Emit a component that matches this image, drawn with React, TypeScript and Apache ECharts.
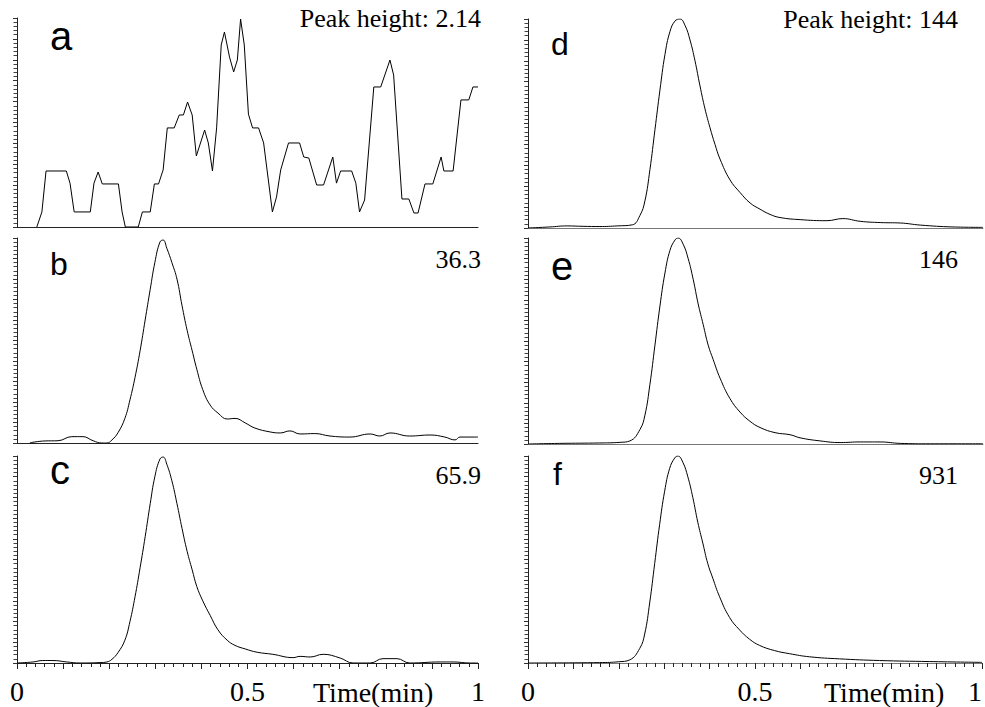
import React, { useEffect, useRef } from "react";
import * as echarts from "echarts";

// [time (min), relative intensity (% of panel peak)]
const panelA: [number, number][] = [
  [0.043, 0], [0.054, 7.2], [0.063, 26.8], [0.107, 26.8], [0.115, 21], [0.124, 7.2], [0.159, 7.2],
  [0.167, 21], [0.176, 26.3], [0.185, 20.6], [0.22, 20.6], [0.228, 7.2], [0.235, 0], [0.263, 0],
  [0.272, 7.2], [0.289, 7.2], [0.298, 20.6], [0.307, 20.6], [0.317, 27.3], [0.326, 47.4], [0.341, 47.4],
  [0.352, 53.6], [0.361, 53.6], [0.37, 59.8], [0.38, 53.6], [0.389, 34], [0.407, 46.4], [0.415, 40.2],
  [0.424, 26.8], [0.433, 47.4], [0.443, 87.1], [0.45, 93.3], [0.461, 81.3], [0.47, 74.2], [0.478, 79.9],
  [0.485, 99.5], [0.493, 87.1], [0.502, 54], [0.511, 47.4], [0.524, 47.4], [0.535, 40.2], [0.554, 7.2],
  [0.563, 14.4], [0.572, 27.3], [0.589, 40.2], [0.613, 40.2], [0.622, 33.5], [0.633, 33], [0.65, 20.1],
  [0.665, 20.1], [0.685, 33.5], [0.693, 21], [0.702, 26.8], [0.726, 26.8], [0.735, 21], [0.743, 7.2],
  [0.754, 12.9], [0.774, 67], [0.789, 67], [0.809, 79.9], [0.817, 72.7], [0.835, 13.4], [0.85, 13.4],
  [0.861, 6.7], [0.87, 6.7], [0.885, 20.6], [0.902, 20.6], [0.92, 33.5], [0.926, 26.8], [0.946, 26.8],
  [0.963, 60.8], [0.98, 60.8], [0.989, 67], [1.0, 67],
];

const panelB: [number, number][] = [
  [0.028, 0.1], [0.061, 1.0], [0.089, 1.1], [0.119, 3.1], [0.143, 3.1], [0.165, 1.1], [0.184, 0],
  [0.195, 0], [0.206, 1.5], [0.219, 5], [0.234, 12], [0.245, 21], [0.256, 32], [0.267, 45], [0.278, 60],
  [0.289, 75], [0.299, 88], [0.31, 98], [0.317, 99], [0.325, 95], [0.336, 88], [0.347, 80], [0.358, 67],
  [0.369, 55], [0.38, 45], [0.39, 36], [0.403, 26], [0.419, 18.5], [0.436, 14.6], [0.456, 11.7],
  [0.473, 12], [0.495, 9.8], [0.516, 7.3], [0.549, 5.4], [0.571, 4.9], [0.592, 5.9], [0.614, 4.4],
  [0.646, 4.6], [0.679, 3.4], [0.722, 2.9], [0.766, 4.4], [0.787, 3.4], [0.809, 4.9], [0.852, 3.4],
  [0.896, 3.9], [0.928, 2.9], [0.95, 1.5], [0.961, 2.9], [1.0, 2.9],
];

const panelC: [number, number][] = [
  [0, 0], [0.035, 0.5], [0.056, 1.2], [0.078, 1.2], [0.108, 0.5], [0.137, 0], [0.18, 0.2], [0.195, 0.5],
  [0.206, 1.8], [0.219, 5], [0.234, 11], [0.245, 20], [0.256, 32], [0.267, 46], [0.278, 61], [0.289, 77],
  [0.299, 90], [0.31, 98.5], [0.317, 99.5], [0.325, 96], [0.336, 88], [0.347, 77], [0.358, 65],
  [0.369, 54], [0.38, 45], [0.39, 37], [0.403, 30], [0.419, 23], [0.436, 16], [0.456, 11], [0.473, 8.5],
  [0.495, 6.8], [0.521, 5.2], [0.555, 4.2], [0.599, 2.6], [0.614, 3.2], [0.636, 2.9], [0.664, 4.2],
  [0.701, 2.4], [0.729, 0], [0.766, 0], [0.794, 2.1], [0.824, 2.1], [0.852, 0], [0.918, 0.5],
  [0.946, 0.5], [0.983, 0], [1.0, 0],
];

const panelD: [number, number][] = [
  [0, 0], [0.048, 0.5], [0.086, 1], [0.121, 0.8], [0.158, 0.7], [0.196, 1], [0.229, 1.5], [0.246, 6],
  [0.257, 13], [0.268, 28], [0.279, 47], [0.29, 66], [0.301, 83], [0.312, 94], [0.323, 99], [0.334, 100],
  [0.345, 97], [0.356, 90], [0.367, 80], [0.378, 68], [0.389, 57], [0.4, 48], [0.411, 40], [0.422, 33],
  [0.444, 23], [0.466, 17], [0.488, 12], [0.51, 9], [0.532, 6.5], [0.554, 5], [0.598, 4], [0.657, 3.5],
  [0.692, 4.5], [0.73, 3.2], [0.774, 2.6], [0.818, 2.4], [0.862, 1.4], [0.934, 0.5], [1.0, 0.3],
];

const panelE: [number, number][] = [
  [0, 0], [0.07, 0.3], [0.158, 0.5], [0.202, 0.8], [0.224, 1.5], [0.246, 7], [0.257, 14], [0.268, 29],
  [0.279, 48], [0.29, 67], [0.301, 83], [0.312, 94], [0.323, 99], [0.33, 100], [0.341, 97], [0.352, 90],
  [0.363, 80], [0.374, 68], [0.385, 58], [0.396, 48], [0.407, 41], [0.422, 32], [0.444, 22], [0.466, 15.5],
  [0.488, 11], [0.51, 8], [0.543, 5.5], [0.576, 4.5], [0.598, 3], [0.642, 1.5], [0.686, 0.7], [0.73, 1],
  [0.774, 1], [0.818, 0.3], [0.884, 0.1], [1.0, 0.1],
];

const panelF: [number, number][] = [
  [0, 0], [0.158, 0.2], [0.2, 0.6], [0.224, 1.5], [0.246, 7], [0.257, 14], [0.268, 29], [0.279, 48],
  [0.29, 67], [0.301, 83], [0.312, 94], [0.323, 99], [0.33, 100], [0.341, 97], [0.352, 90], [0.363, 80],
  [0.374, 68], [0.385, 58], [0.396, 48], [0.407, 41], [0.422, 32], [0.444, 22], [0.466, 16], [0.488, 11.5],
  [0.51, 8.5], [0.543, 6], [0.576, 4.5], [0.62, 3], [0.686, 2], [0.774, 1.2], [0.884, 0.7], [1.0, 0.3],
];

const panelLetters = ["a", "b", "c", "d", "e", "f"];
const peakLabels = ["Peak height: 2.14", "36.3", "65.9", "Peak height: 144", "146", "931"];
const xTickLabels: Record<string, string> = { "0": "0", "0.5": "0.5", "1": "1" };
const xAxisTitle = "Time(min)";

const App: React.FC = () => {
  const ref = useRef<HTMLDivElement>(null);

  useEffect(() => {
    if (!ref.current) return;
    const chart = echarts.init(ref.current, undefined, { renderer: "svg" });
    const datasets = [panelA, panelB, panelC, panelD, panelE, panelF];
    const grids = [
      { left: 17, top: 18, width: 461, height: 209 },
      { left: 17, top: 238, width: 461, height: 205 },
      { left: 17, top: 456, width: 461, height: 207 },
      { left: 528, top: 19, width: 455, height: 209 },
      { left: 528, top: 238, width: 455, height: 206 },
      { left: 528, top: 456, width: 455, height: 207 },
    ];
    const isBottom = (i: number) => i === 2 || i === 5;
    const serif = "'Liberation Serif', 'Times New Roman', serif";
    const sans = "'Liberation Sans', Arial, sans-serif";

    const xAxis = grids.map((_, i) => ({
      type: "value",
      gridIndex: i,
      min: 0,
      max: 1,
      interval: 0.1,
      axisLine: { show: true, onZero: false, lineStyle: { color: i < 3 ? "#222" : "#777", width: 1 } },
      axisTick: { show: isBottom(i), length: 6, lineStyle: { color: "#222" } },
      minorTick: { show: isBottom(i), splitNumber: 5, length: 4, lineStyle: { color: "#222" } },
      splitLine: { show: false },
      axisLabel: {
        show: isBottom(i),
        margin: 14,
        fontSize: 28,
        fontFamily: serif,
        color: "#000",
        alignMaxLabel: i === 5 ? "right" : "center",
        formatter: (v: number) => xTickLabels[String(Math.round(v * 10) / 10)] ?? "",
      },
    }));

    const yAxis = grids.map((_, i) => ({
      type: "value",
      gridIndex: i,
      min: 0,
      max: 100,
      interval: 10,
      axisLine: { show: true, lineStyle: { color: "#222", width: 1 } },
      axisTick: { show: true, length: 4, lineStyle: { color: "#333" } },
      minorTick: { show: true, splitNumber: 5, length: 3.5, lineStyle: { color: "#444" } },
      splitLine: { show: false },
      axisLabel: { show: false },
    }));

    const series = datasets.map((d, i) => ({
      type: "line",
      xAxisIndex: i,
      yAxisIndex: i,
      data: d,
      showSymbol: false,
      symbol: "none",
      smooth: i === 0 ? false : 0.45,
      clip: true,
      lineStyle: { color: "#000", width: 1 },
    }));

    const letterPos = [
      { x: 50, y: 56, size: 40 },
      { x: 50, y: 280, size: 32 },
      { x: 50, y: 490, size: 40 },
      { x: 551, y: 60, size: 32 },
      { x: 551, y: 286, size: 40 },
      { x: 553, y: 490, size: 32 },
    ];
    const labelPos = [
      { x: 481, y: 31 },
      { x: 481, y: 272 },
      { x: 481, y: 488 },
      { x: 958, y: 32 },
      { x: 958, y: 272 },
      { x: 958, y: 488 },
    ];

    const graphic: any[] = [];
    panelLetters.forEach((t, i) => {
      graphic.push({
        type: "text",
        x: letterPos[i].x,
        y: letterPos[i].y,
        style: {
          text: t,
          fontSize: letterPos[i].size,
          fontFamily: sans,
          fill: "#000",
          textAlign: "left",
          textVerticalAlign: "bottom",
        },
      });
    });
    peakLabels.forEach((t, i) => {
      graphic.push({
        type: "text",
        x: labelPos[i].x,
        y: labelPos[i].y,
        style: {
          text: t,
          fontSize: 26,
          fontFamily: serif,
          fill: "#000",
          textAlign: "right",
          textVerticalAlign: "bottom",
        },
      });
    });
    [313, 824].forEach((x) => {
      graphic.push({
        type: "text",
        x,
        y: 706,
        style: {
          text: xAxisTitle,
          fontSize: 28,
          fontFamily: serif,
          fill: "#000",
          textAlign: "left",
          textVerticalAlign: "bottom",
        },
      });
    });

    chart.setOption({
      animation: false,
      backgroundColor: "#fff",
      grid: grids.map((g) => ({ ...g, containLabel: false })),
      xAxis,
      yAxis,
      series,
      graphic,
    });
    return () => chart.dispose();
  }, []);

  return (
    <div
      ref={ref}
      style={{ position: "fixed", left: 0, top: 0, width: 985, height: 707, background: "#fff" }}
    />
  );
};

export default App;
